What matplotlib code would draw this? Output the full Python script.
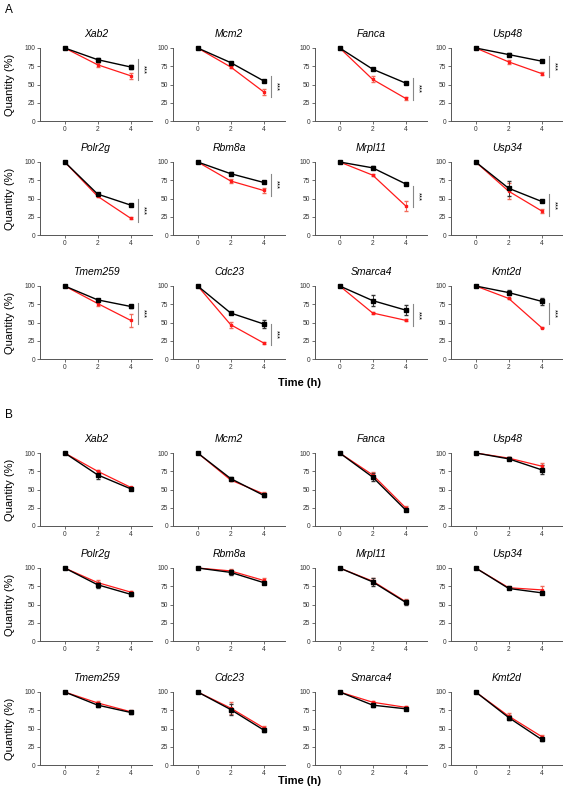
import matplotlib
matplotlib.use("Agg")
import matplotlib.pyplot as plt

plt.rcParams["font.family"] = ["Liberation Sans", "DejaVu Sans"]

genes = ["Xab2", "Mcm2", "Fanca", "Usp48",
         "Polr2g", "Rbm8a", "Mrpl11", "Usp34",
         "Tmem259", "Cdc23", "Smarca4", "Kmt2d"]
hours = [0, 2, 4]

# panel A: black = control, red = treated
a_black = [[100, 84, 74], [100, 80, 55], [100, 71, 52], [100, 91, 82],
           [100, 56, 41], [100, 84, 72], [100, 92, 70], [100, 64, 46],
           [100, 81, 72], [100, 63, 48], [100, 80, 67], [100, 91, 79]]
a_black_err = [[0, 2, 3], [0, 1.5, 1.5], [0, 1, 1], [0, 1.5, 1],
               [0, 1.5, 1], [0, 2, 1], [0, 2, 1], [0, 10, 1],
               [0, 1, 2], [0, 2, 6], [0, 8, 7], [0, 4, 5]]
a_red = [[100, 77, 62], [100, 74, 40], [100, 57, 31], [100, 81, 65],
         [100, 53, 23], [100, 74, 61], [100, 82, 40], [100, 60, 33],
         [100, 76, 53], [100, 47, 22], [100, 63, 53], [100, 83, 43]]
a_red_err = [[0, 3, 4], [0, 2, 4], [0, 4, 2], [0, 3, 1.5],
             [0, 1.5, 1], [0, 3, 3], [0, 1, 7], [0, 11, 3],
             [0, 3, 9], [0, 4, 1], [0, 1.5, 1.5], [0, 1, 1]]
# significance bar extent (low, high) at 4 h
a_sig = [(56, 85), (33, 62), (29, 59), (60, 89),
         (18, 49), (53, 84), (38, 67), (26, 56),
         (48, 77), (19, 48), (45, 75), (48, 77)]

# panel B
b_black = [[100, 70, 51], [100, 65, 42], [100, 67, 22], [100, 92, 77],
           [100, 77, 64], [100, 94, 80], [100, 81, 53], [100, 72, 66],
           [100, 82, 72], [100, 76, 48], [100, 82, 77], [100, 65, 35]]
b_black_err = [[0, 5, 1.5], [0, 2, 2], [0, 6, 2], [0, 2, 6],
               [0, 4, 2], [0, 3, 2], [0, 5, 3], [0, 1, 2],
               [0, 3, 2], [0, 7, 3], [0, 3, 1.5], [0, 4, 2]]
b_red = [[100, 75, 53], [100, 63, 44], [100, 70, 25], [100, 93, 82],
         [100, 80, 67], [100, 96, 83], [100, 82, 54], [100, 73, 70],
         [100, 85, 73], [100, 78, 51], [100, 86, 79], [100, 67, 39]]
b_red_err = [[0, 2, 1], [0, 2, 2], [0, 4, 2], [0, 2, 4],
             [0, 4, 2], [0, 2, 3], [0, 4, 3], [0, 2, 5],
             [0, 3, 2], [0, 8, 3], [0, 2, 2], [0, 4, 2]]

W, H = 563, 795
fig = plt.figure(figsize=(W / 100, H / 100), dpi=100)

col_left = [40, 173, 315, 451]
ax_w, ax_h = 112, 73
rows_top = {"A": [48, 162, 286], "B": [453, 568, 692]}
axis_grey = "#555555"


def draw_panel(tops, black, black_err, red, red_err, sig=None):
    for i, g in enumerate(genes):
        r, c = divmod(i, 4)
        top = tops[r]
        ax = fig.add_axes([col_left[c] / W, 1 - (top + ax_h) / H, ax_w / W, ax_h / H])
        ax.errorbar(hours, red[i], yerr=red_err[i], color="#ff1a1a", ecolor="#f26b5b",
                    lw=0.9, elinewidth=0.7, capsize=1.2, marker="s", ms=2.0, clip_on=False)
        ax.errorbar(hours, black[i], yerr=black_err[i], color="black", ecolor="#333333",
                    lw=1.0, elinewidth=0.7, capsize=1.2, marker="s", ms=2.2, clip_on=False)
        ax.set_xlim(-1.5, 5.3)
        ax.set_ylim(0, 100)
        ax.set_xticks(hours)
        ax.set_yticks([0, 25, 50, 75, 100])
        ax.tick_params(labelsize=4.8, length=2, width=0.5, pad=1.5, colors="#333333")
        for s in ("top", "right"):
            ax.spines[s].set_visible(False)
        for s in ("left", "bottom"):
            ax.spines[s].set_color(axis_grey)
            ax.spines[s].set_linewidth(0.7)
        ax.set_title(g, fontsize=7.5, style="italic", pad=8)
        if c == 0:
            ax.set_ylabel("Quantity (%)", fontsize=8, labelpad=7)
        if sig is not None:
            lo, hi = sig[i]
            ax.plot([4.45, 4.45], [lo, hi], color="#888888", lw=0.8, clip_on=False)
            ax.text(4.75, (lo + hi) / 2, "***", rotation=270, fontsize=5.5,
                    ha="center", va="center")


draw_panel(rows_top["A"], a_black, a_black_err, a_red, a_red_err, a_sig)
draw_panel(rows_top["B"], b_black, b_black_err, b_red, b_red_err)

fig.text(5 / W, 1 - 10 / H, "A", fontsize=8.5, va="center")
fig.text(5 / W, 1 - 415 / H, "B", fontsize=8.5, va="center")
fig.text(300 / W, 1 - 383 / H, "Time (h)", fontsize=8, weight="bold", ha="center", va="center")
fig.text(300 / W, 1 - 781 / H, "Time (h)", fontsize=8, weight="bold", ha="center", va="center")

fig.savefig("out.png", dpi=100)
